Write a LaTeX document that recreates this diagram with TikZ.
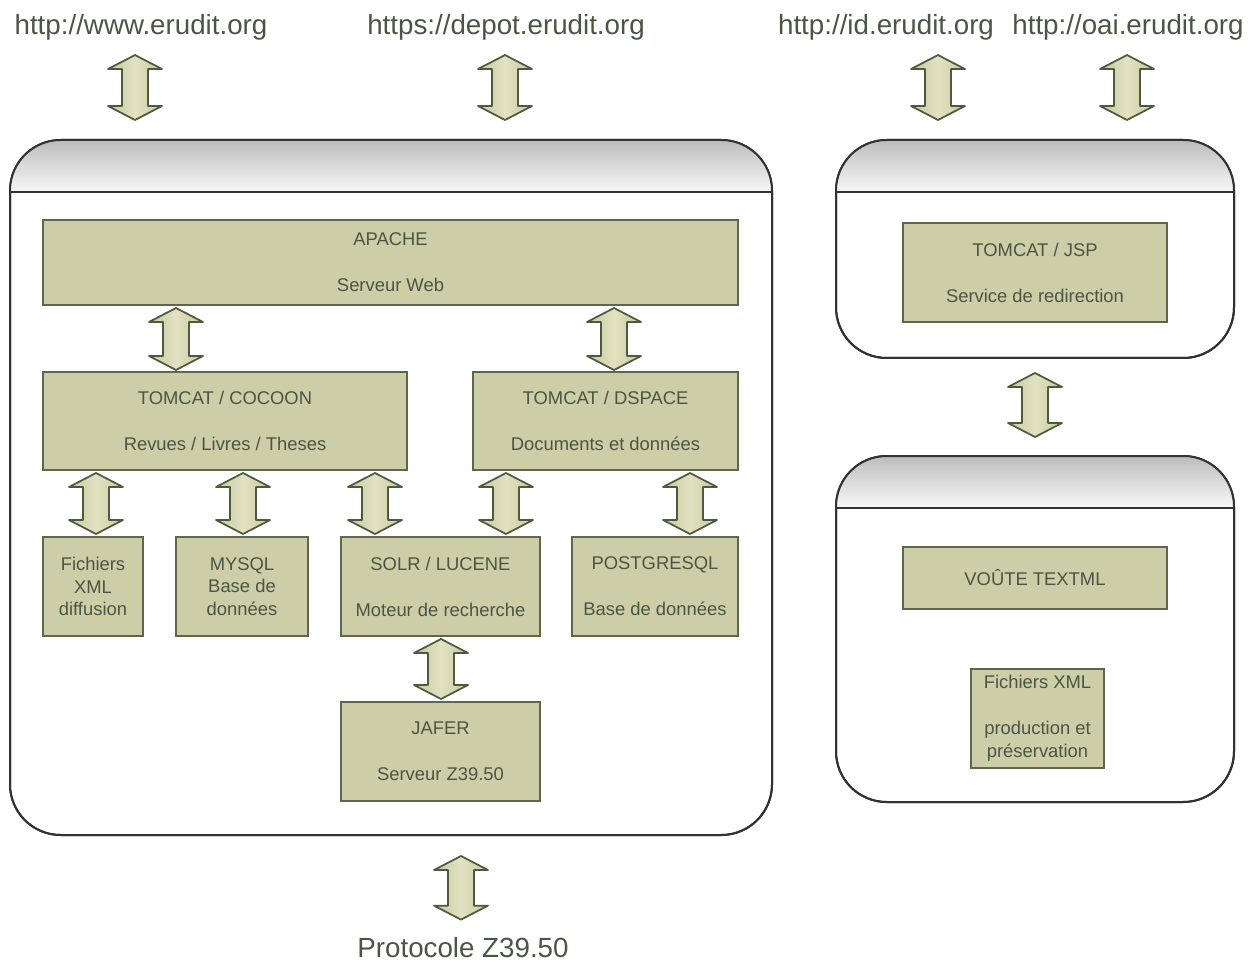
\documentclass[tikz,border=0pt]{standalone}
\usepackage{fontspec}
\setmainfont{Liberation Sans}
\usetikzlibrary{calc}
\definecolor{boxfill}{RGB}{205,205,168}
\definecolor{boxline}{RGB}{94,102,80}
\definecolor{txt}{RGB}{74,86,68}
\definecolor{arrlight}{RGB}{226,226,194}
\definecolor{arrdark}{RGB}{198,200,158}
\definecolor{arrline}{RGB}{78,90,62}
\definecolor{contline}{RGB}{50,50,50}
\definecolor{hdtop}{RGB}{188,188,188}
\definecolor{hdbot}{RGB}{248,248,248}
\tikzset{
 sz/.style 2 args={minimum width=#1*0.75pt, minimum height=#2*0.75pt},
 box/.style={draw=boxline, line width=1.5pt, fill=boxfill, text=txt, align=center, inner sep=0pt,
   font=\fontsize{13.8}{16.9}\selectfont},
 container/.style={draw=contline, line width=1.5pt, rounded corners=38pt, fill=white},
 header/.style={top color=hdtop, bottom color=hdbot},
 divider/.style={draw=contline, line width=1.5pt},
 url/.style={text=txt, font=\fontsize{20.8}{25}\selectfont, inner sep=0pt, anchor=base},
 blockarrow/.style={draw=arrline, line width=1.3pt, left color=arrdark, right color=arrdark,
   middle color=arrlight, line join=round},
}
% #1 x (px), #2 upper anchor, #3 lower anchor, #4 upper gap (px), #5 lower gap (px)
\newcommand\dblarr[5]{%
 \path[blockarrow] let \p1=#2, \p2=#3, \p0=(#1,0),
   \n1={\y1-#4*0.75pt}, \n3={\y1-#4*0.75pt-10.5pt},
   \n2={\y2+#5*0.75pt}, \n4={\y2+#5*0.75pt+10.5pt} in
  (\x0,{\n1*1pt}) -- (\x0+20.25pt,{\n3*1pt}) -- (\x0+9.75pt,{\n3*1pt}) -- (\x0+9.75pt,{\n4*1pt})
  -- (\x0+20.25pt,{\n4*1pt}) -- (\x0,{\n2*1pt}) -- (\x0-20.25pt,{\n4*1pt}) -- (\x0-9.75pt,{\n4*1pt})
  -- (\x0-9.75pt,{\n3*1pt}) -- (\x0-20.25pt,{\n3*1pt}) -- cycle;}
% container header: #1 node name
\newcommand\hdr[1]{%
 \begin{scope}
  \clip[rounded corners=38pt] (#1.north west) rectangle (#1.south east);
  \shade[header] (#1.north west) rectangle ([yshift=-39pt]#1.north east);
 \end{scope}
 \draw[divider] ([yshift=-39pt]#1.north west) -- ([yshift=-39pt]#1.north east);
 \draw[container, fill=none] (#1.north west) rectangle (#1.south east);}
\begin{document}
\begin{tikzpicture}[x=0.75pt,y=-0.75pt]
\useasboundingbox (0,0) rectangle (1256,962);
% containers
\node[container, sz={762}{695}, outer sep=0pt] (left) at (391,487.5) {};
\node[container, sz={398}{218}, outer sep=0pt] (rtop) at (1035,249) {};
\node[container, sz={398}{346}, outer sep=0pt] (rbot) at (1035,629) {};
\hdr{left}
\hdr{rtop}
\hdr{rbot}
% urls
\node[url] (u1) at (141,35) {http://www.erudit.org};
\node[url] (u2) at (506,35) {https://depot.erudit.org};
\node[url] (u3) at (886,35) {http://id.erudit.org};
\node[url] (u4) at (1128,35) {http://oai.erudit.org};
\node[url] (proto) at (463,957) {Protocole Z39.50};
% boxes
\node[box, sz={695}{85}] (apache) at (390.5,262.5) {APACHE\\[17.6pt]Serveur Web};
\node[box, sz={364}{98}] (cocoon) at (225,421) {TOMCAT / COCOON\\[17.6pt]Revues / Livres / Theses};
\node[box, sz={265}{98}] (dspace) at (605.5,421) {TOMCAT / DSPACE\\[17.6pt]Documents et données};
\node[box, sz={100}{99}] (fxml) at (93,586.5) {Fichiers\\XML\\diffusion};
\node[box, sz={132}{99}] (mysql) at (242,586.5) {MYSQL\\Base de\\données};
\node[box, sz={199}{99}] (solr) at (440.5,586.5) {SOLR / LUCENE\\[17.6pt]Moteur de recherche};
\node[box, sz={166}{99}] (pg) at (655,586.5) {POSTGRESQL\\[17.6pt]Base de données};
\node[box, sz={199}{99}] (jafer) at (440.5,751.5) {JAFER\\[17.6pt]Serveur Z39.50};
\node[box, sz={264}{99}] (jsp) at (1035,272.5) {TOMCAT / JSP\\[17.6pt]Service de redirection};
\node[box, sz={264}{62}] (voute) at (1035,578) {VOÛTE TEXTML};
\node[box, sz={133}{99}] (fprod) at (1037.5,718.5) {Fichiers XML\\[17.6pt]production et\\préservation};
% arrows
\dblarr{135}{(u1.south)}{(left.north)}{14}{20}
\dblarr{505}{(u2.south)}{(left.north)}{14}{20}
\dblarr{938}{(u3.south)}{(rtop.north)}{14}{20}
\dblarr{1127}{(u4.south)}{(rtop.north)}{14}{20}
\dblarr{176}{(apache.south)}{(cocoon.north)}{2}{1}
\dblarr{614}{(apache.south)}{(dspace.north)}{2}{1}
\dblarr{96}{(cocoon.south)}{(fxml.north)}{2}{2}
\dblarr{243}{(cocoon.south)}{(mysql.north)}{2}{2}
\dblarr{375}{(cocoon.south)}{(solr.north)}{2}{2}
\dblarr{506}{(dspace.south)}{(solr.north)}{2}{2}
\dblarr{690}{(dspace.south)}{(pg.north)}{2}{2}
\dblarr{441}{(solr.south)}{(jafer.north)}{2}{2}
\dblarr{1035}{(rtop.south)}{(rbot.north)}{15}{19}
\dblarr{461}{(left.south)}{(proto.north)}{21}{17}
\end{tikzpicture}
\end{document}
